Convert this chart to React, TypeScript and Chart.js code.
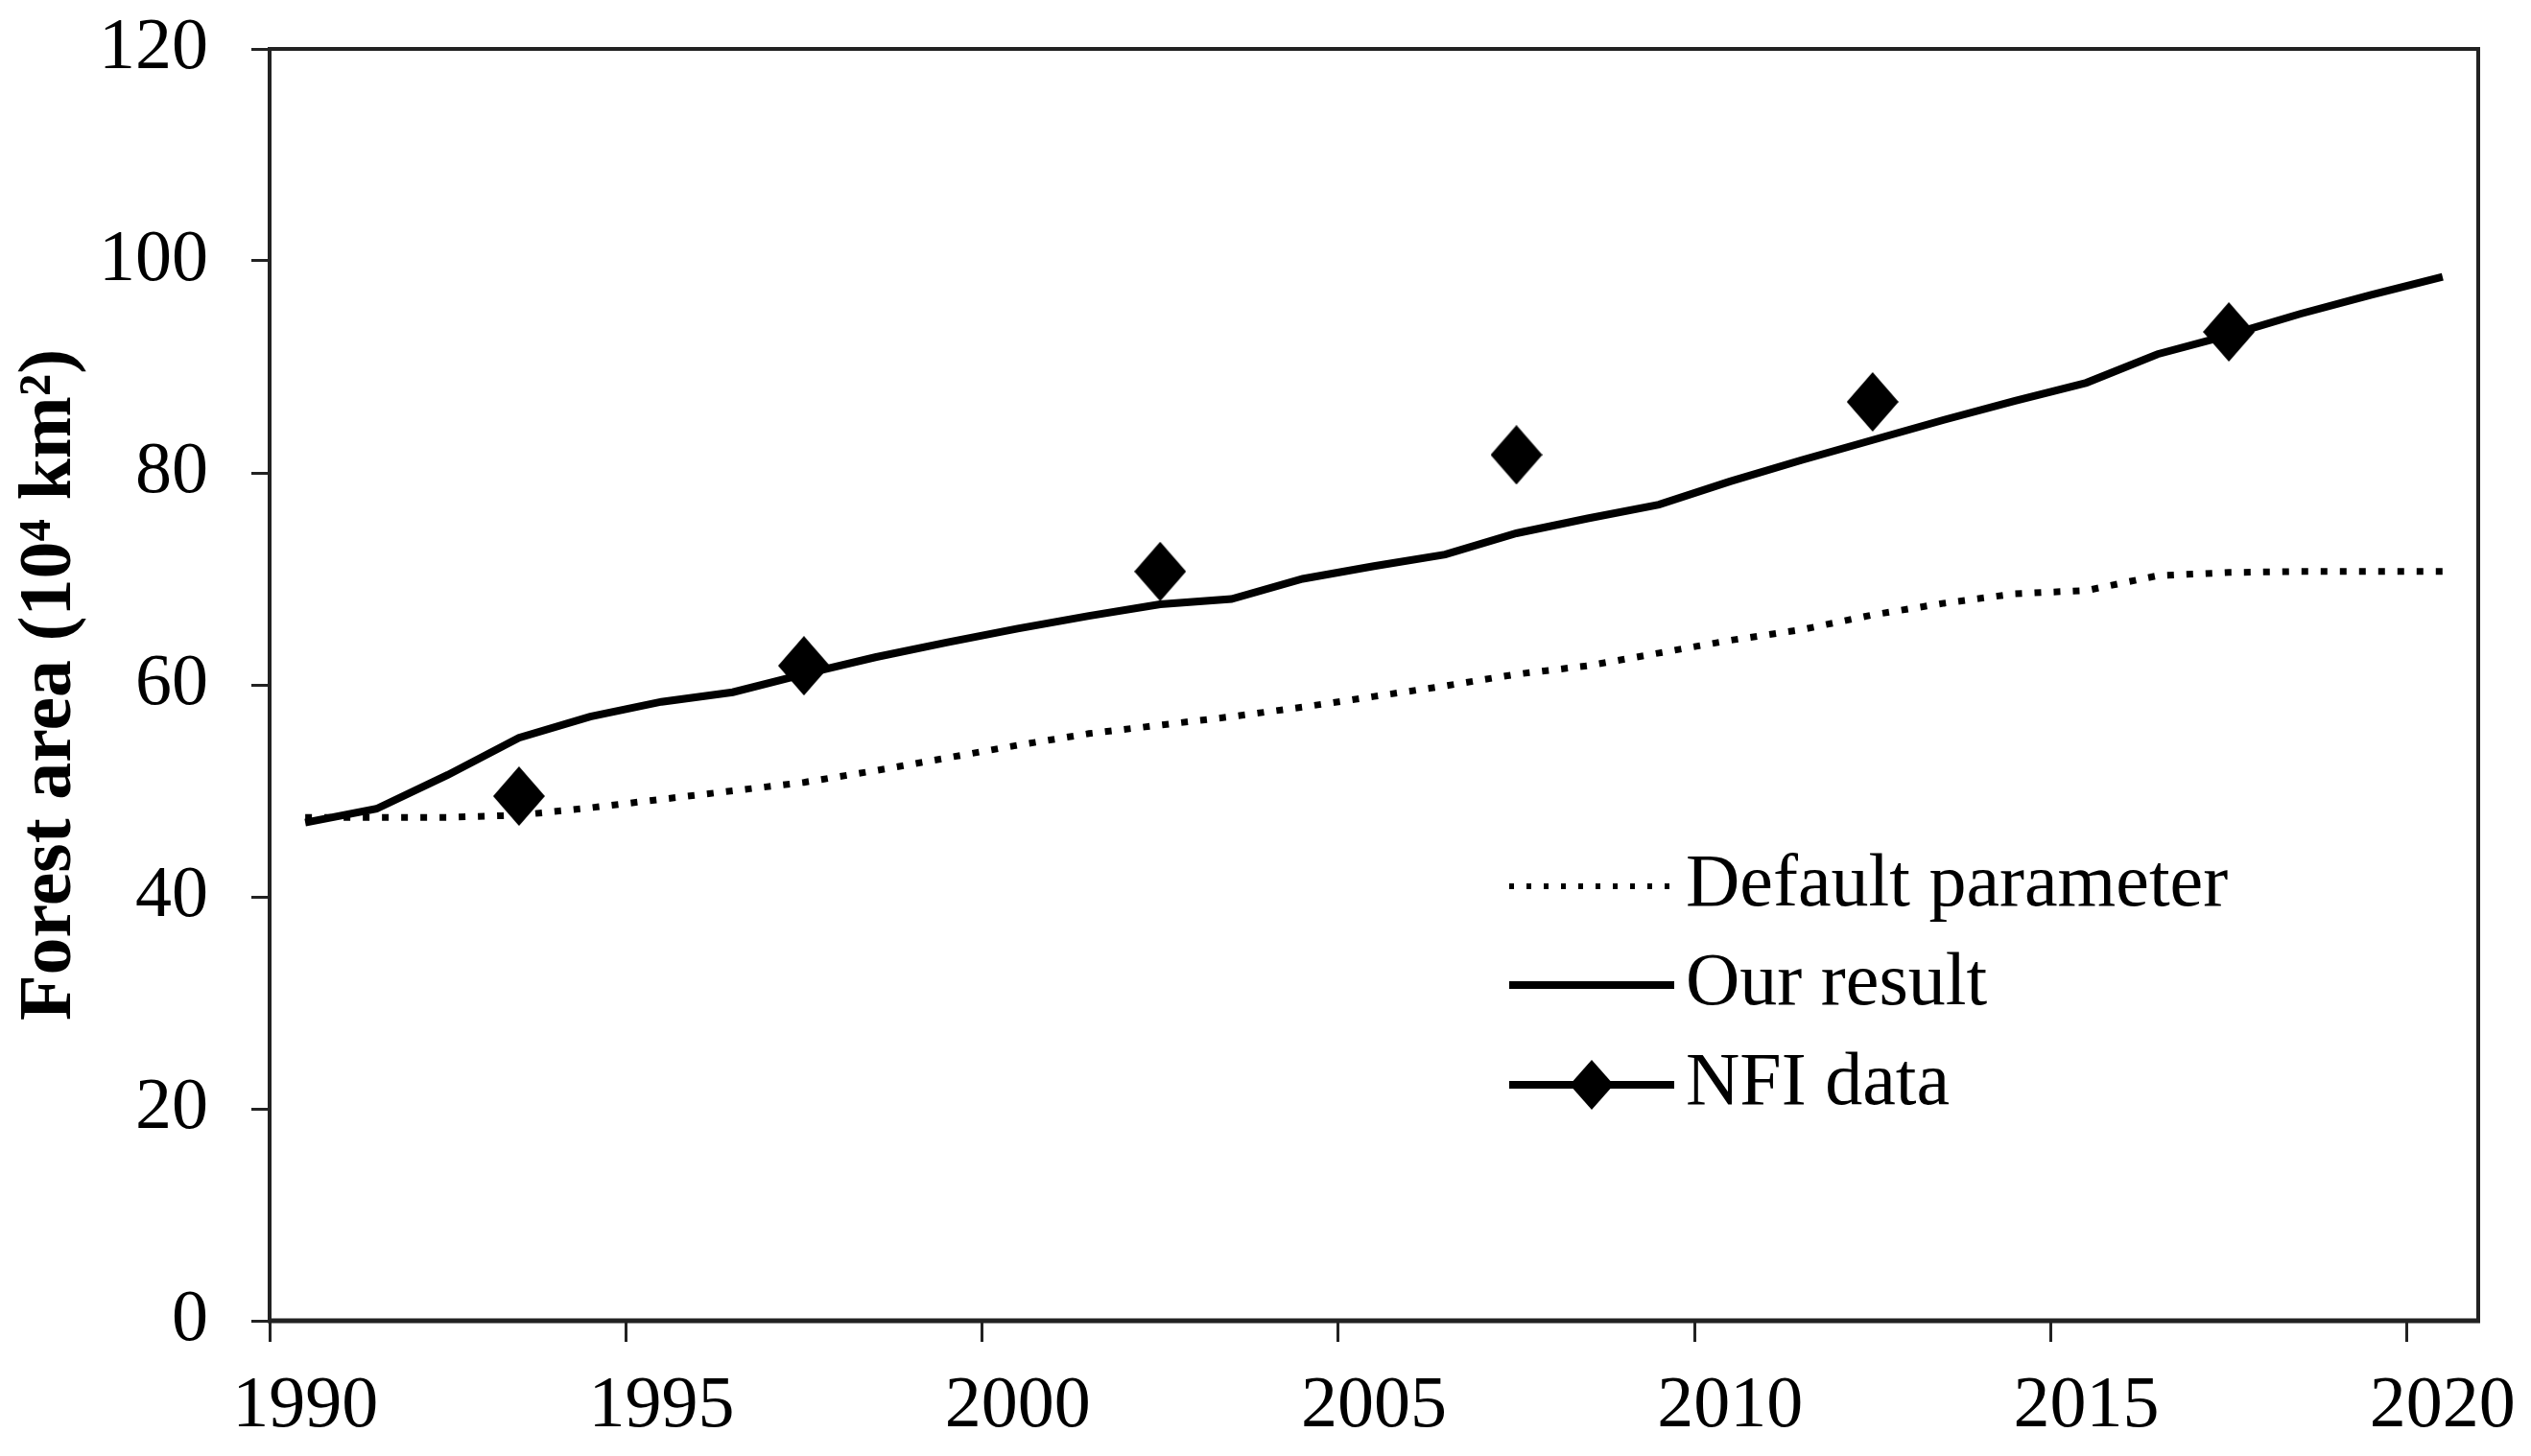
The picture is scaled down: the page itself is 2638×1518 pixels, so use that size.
import React, { useEffect, useRef } from 'react';
import { Chart, registerables } from 'chart.js';

Chart.register(...registerables);

const years = [
  '1990', '1991', '1992', '1993', '1994', '1995', '1996', '1997', '1998', '1999',
  '2000', '2001', '2002', '2003', '2004', '2005', '2006', '2007', '2008', '2009',
  '2010', '2011', '2012', '2013', '2014', '2015', '2016', '2017', '2018', '2019', '2020',
];

const defaultParameter = [
  47.5, 47.5, 47.5, 47.7, 48.4, 49.2, 50.0, 50.8, 51.9, 53.1,
  54.3, 55.4, 56.2, 57.0, 57.9, 58.9, 59.9, 61.0, 61.8, 63.0,
  64.2, 65.2, 66.6, 67.7, 68.6, 68.9, 70.3, 70.6, 70.7, 70.7, 70.7,
];

const ourResult = [
  47.0, 48.3, 51.5, 55.0, 57.0, 58.4, 59.3, 61.0, 62.6, 64.0,
  65.3, 66.5, 67.6, 68.1, 70.0, 71.2, 72.3, 74.3, 75.7, 77.0,
  79.2, 81.2, 83.1, 85.0, 86.8, 88.5, 91.2, 93.0, 95.0, 96.8, 98.5,
];

const nfiYears = ['1993', '1997', '2002', '2007', '2012', '2017'];
const nfiValues = [49.5, 61.8, 70.7, 81.7, 86.7, 93.3];

const seriesLabels = ['Default parameter', 'Our result', 'NFI data'];
const xTickYears = ['1990', '1995', '2000', '2005', '2010', '2015', '2020'];
const yMin = 0;
const yMax = 120;
const yStep = 20;
const yTitle = 'Forest area (10\u2074 km\u00B2)';

const SERIF = '"Liberation Serif", "Times New Roman", "DejaVu Serif", serif';

function makeDiamond(w: number, h: number): HTMLCanvasElement {
  const c = document.createElement('canvas');
  c.width = w;
  c.height = h;
  const g = c.getContext('2d')!;
  g.fillStyle = '#000';
  g.beginPath();
  g.moveTo(w / 2, 0);
  g.lineTo(w, h / 2);
  g.lineTo(w / 2, h);
  g.lineTo(0, h / 2);
  g.closePath();
  g.fill();
  return c;
}

function zeroPadding(s: any) {
  s.paddingTop = 0;
  s.paddingBottom = 0;
  s.paddingLeft = 0;
  s.paddingRight = 0;
}

export default function App() {
  const ref = useRef<HTMLCanvasElement | null>(null);

  useEffect(() => {
    if (!ref.current) return;
    const diamond = makeDiamond(54, 62);
    const legendDiamond = makeDiamond(46, 52);

    const nfiSeries = years.map((y) => {
      const i = nfiYears.indexOf(y);
      return i >= 0 ? nfiValues[i] : null;
    });

    const framePlugin = {
      id: 'frameAndLegend',
      afterDraw(chart: any) {
        const { ctx, chartArea } = chart;
        const { left, right, top, bottom } = chartArea;
        ctx.save();
        // frame
        ctx.strokeStyle = '#222';
        ctx.lineWidth = 4;
        ctx.setLineDash([]);
        ctx.beginPath();
        ctx.moveTo(left, bottom);
        ctx.lineTo(left, top);
        ctx.lineTo(right, top);
        ctx.lineTo(right, bottom);
        ctx.stroke();
        ctx.lineWidth = 5;
        ctx.beginPath();
        ctx.moveTo(left - 2, bottom);
        ctx.lineTo(right + 2, bottom);
        ctx.stroke();

        // legend
        const sx0 = left + 1292;
        const sx1 = left + 1464;
        const tx = left + 1476;
        const rows = [top + 873, top + 976, top + 1080];
        ctx.strokeStyle = '#000';
        ctx.lineCap = 'butt';

        ctx.lineWidth = 6;
        ctx.setLineDash([5, 13]);
        ctx.beginPath();
        ctx.moveTo(sx0, rows[0]);
        ctx.lineTo(sx1 - 4, rows[0]);
        ctx.stroke();

        ctx.setLineDash([]);
        ctx.lineWidth = 8;
        ctx.beginPath();
        ctx.moveTo(sx0, rows[1]);
        ctx.lineTo(sx1, rows[1]);
        ctx.stroke();

        ctx.beginPath();
        ctx.moveTo(sx0, rows[2]);
        ctx.lineTo(sx1, rows[2]);
        ctx.stroke();
        const mx = (sx0 + sx1) / 2;
        ctx.drawImage(legendDiamond, mx - legendDiamond.width / 2, rows[2] - legendDiamond.height / 2);

        ctx.fillStyle = '#000';
        ctx.font = `78px ${SERIF}`;
        ctx.textAlign = 'left';
        ctx.textBaseline = 'middle';
        chart.data.datasets.forEach((ds: any, i: number) => {
          ctx.fillText(ds.label, tx, rows[i]);
        });
        ctx.restore();
      },
    };

    const chart = new Chart(ref.current, {
      type: 'line',
      data: {
        labels: years,
        datasets: [
          {
            label: seriesLabels[0],
            data: defaultParameter,
            borderColor: '#000',
            borderWidth: 7,
            borderDash: [7, 13],
            borderCapStyle: 'butt',
            pointRadius: 0,
            tension: 0,
            fill: false,
          },
          {
            label: seriesLabels[1],
            data: ourResult,
            borderColor: '#000',
            borderWidth: 8,
            pointRadius: 0,
            tension: 0,
            fill: false,
          },
          {
            label: seriesLabels[2],
            data: nfiSeries,
            showLine: false,
            borderColor: '#000',
            backgroundColor: '#000',
            pointStyle: diamond as any,
            pointRadius: 30,
            fill: false,
          },
        ],
      },
      options: {
        responsive: false,
        animation: false,
        events: [],
        layout: { padding: { left: 0, right: 55, top: 51, bottom: 0 } },
        plugins: {
          legend: { display: false },
          tooltip: { enabled: false },
          title: { display: false },
        },
        scales: {
          x: {
            type: 'category',
            offset: true,
            grid: {
              offset: true,
              drawOnChartArea: false,
              drawTicks: true,
              tickLength: 22,
              tickWidth: 3,
              tickColor: (c: any) =>
                c.index !== undefined && xTickYears.includes(years[c.index]) ? '#222' : 'rgba(0,0,0,0)',
            },
            border: { display: false },
            ticks: {
              autoSkip: false,
              maxRotation: 0,
              minRotation: 0,
              padding: 22,
              color: '#000',
              font: { family: SERIF, size: 76 },
              callback: (_v: any, i: number) => (xTickYears.includes(years[i]) ? years[i] : ''),
            },
            afterFit: (s: any) => {
              s.height = 141;
              zeroPadding(s);
            },
          },
          y: {
            type: 'linear',
            min: yMin,
            max: yMax,
            grid: {
              drawOnChartArea: false,
              drawTicks: true,
              tickLength: 19,
              tickWidth: 3,
              tickColor: '#222',
            },
            border: { display: false },
            ticks: {
              stepSize: yStep,
              padding: 45,
              color: '#000',
              font: { family: SERIF, size: 76 },
            },
            title: {
              display: true,
              text: yTitle,
              color: '#000',
              font: { family: SERIF, size: 78, weight: 'bold' },
              padding: { top: 6, bottom: 0 },
            },
            afterFit: (s: any) => {
              s.width = 281;
              zeroPadding(s);
            },
          },
        },
      },
      plugins: [framePlugin],
    } as any);

    return () => {
      chart.destroy();
    };
  }, []);

  return (
    <div
      style={{
        position: 'fixed',
        left: 0,
        top: 0,
        width: 2638,
        height: 1518,
        background: '#fff',
      }}
    >
      <canvas ref={ref} width={2638} height={1518} style={{ width: 2638, height: 1518, display: 'block' }} />
    </div>
  );
}
